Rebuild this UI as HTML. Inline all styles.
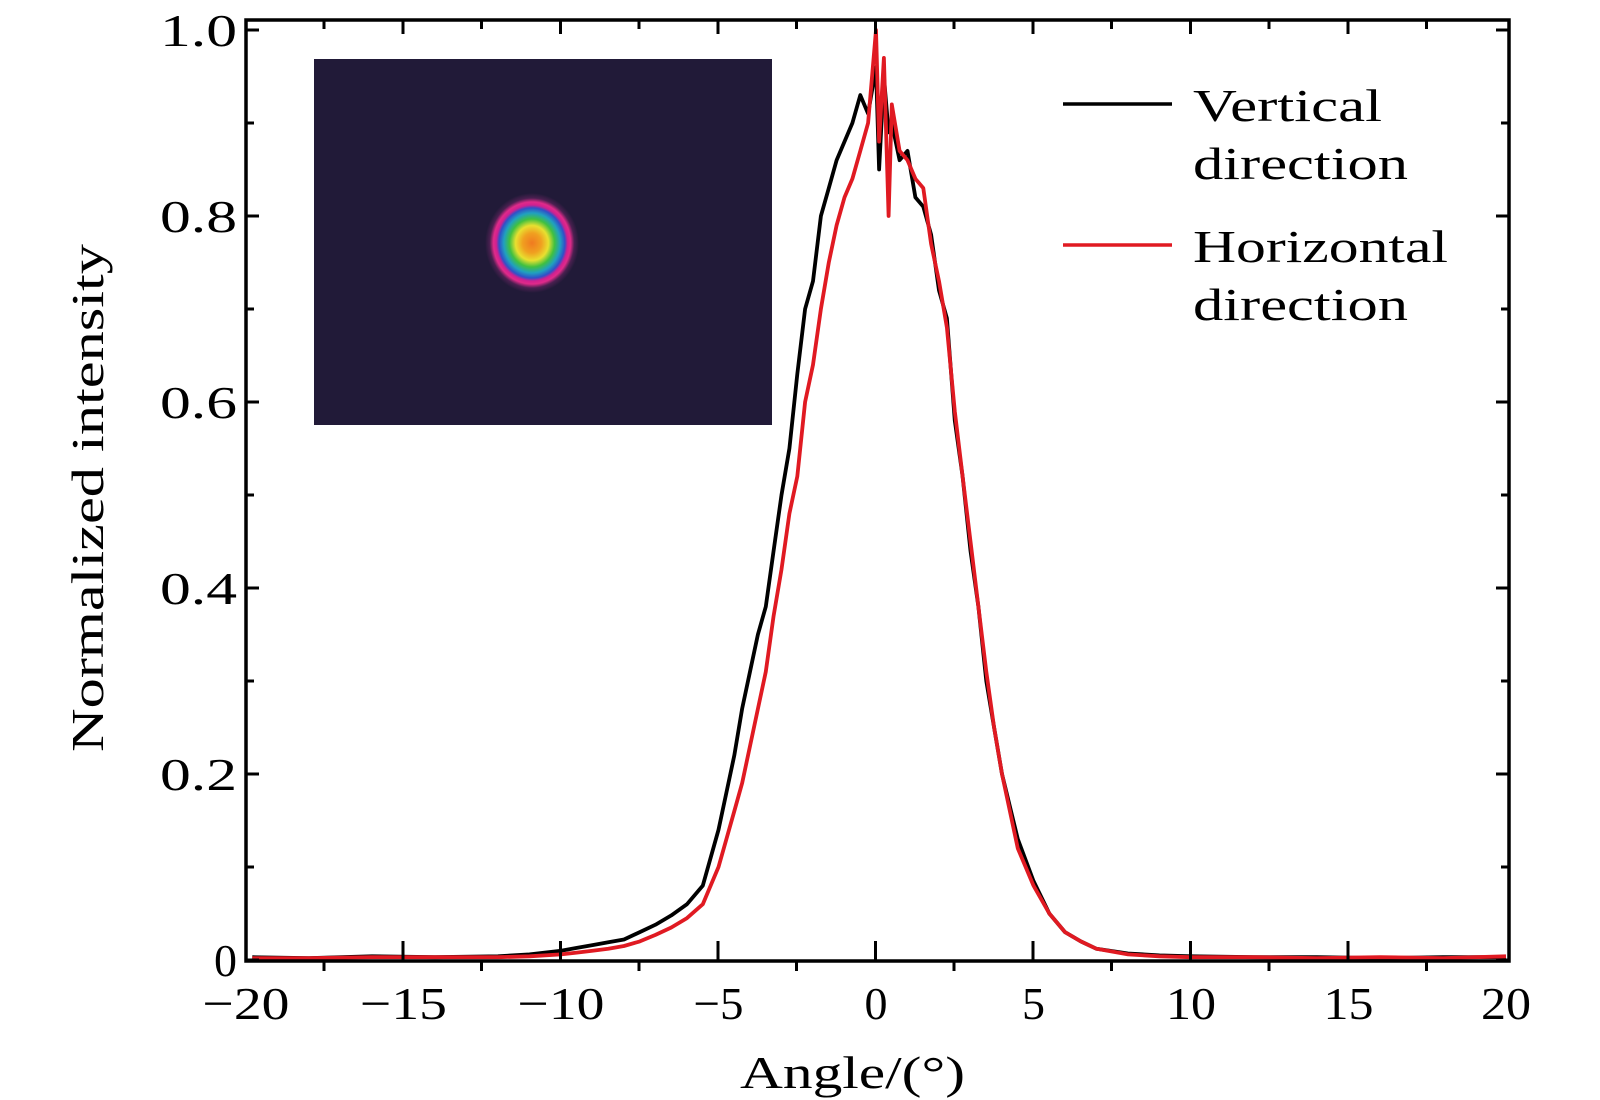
<!DOCTYPE html>
<html><head><meta charset="utf-8"><style>
html,body{margin:0;padding:0;background:#fff;}
svg{display:block;font-family:"Liberation Serif",serif;}
</style></head><body>
<svg id="chart" width="1600" height="1100" viewBox="0 0 1600 1100">
<defs>
<radialGradient id="spot" cx="0.5" cy="0.5" r="0.5">
<stop offset="0" stop-color="#f07a20"/>
<stop offset="0.2" stop-color="#f0a020"/>
<stop offset="0.35" stop-color="#e8e030"/>
<stop offset="0.48" stop-color="#40c040"/>
<stop offset="0.6" stop-color="#20a0c0"/>
<stop offset="0.7" stop-color="#3050c8"/>
<stop offset="0.76" stop-color="#d02090"/>
<stop offset="0.82" stop-color="#e02a8a"/>
<stop offset="0.9" stop-color="#4a2050"/>
<stop offset="1" stop-color="#211a38"/>
</radialGradient>
</defs>
<g id="inset">
<rect x="314" y="59" width="458" height="366" fill="#211a38"/>
<ellipse cx="532" cy="243" rx="47" ry="50" fill="url(#spot)"/>
</g>
<g id="series"></g>
<g id="axes"></g>
<g id="legend">
<line x1="1063" y1="104" x2="1172" y2="104" stroke="#000" stroke-width="3.5"/>
<text x="1193" y="121" font-size="46" textLength="189" lengthAdjust="spacingAndGlyphs">Vertical</text>
<text x="1193" y="179" font-size="46" textLength="215" lengthAdjust="spacingAndGlyphs">direction</text>
<line x1="1063" y1="245" x2="1172" y2="245" stroke="#e01a22" stroke-width="3.5"/>
<text x="1193" y="262" font-size="46" textLength="255" lengthAdjust="spacingAndGlyphs">Horizontal</text>
<text x="1193" y="320" font-size="46" textLength="215" lengthAdjust="spacingAndGlyphs">direction</text>
</g>
<text x="740" y="1088" font-size="46" textLength="225" lengthAdjust="spacingAndGlyphs">Angle/(°)</text>
<text transform="translate(103,752) rotate(-90)" font-size="46" textLength="508" lengthAdjust="spacingAndGlyphs">Normalized intensity</text>
</svg>
<script>
const angles=[-19.8,-18,-16,-14,-12,-11,-10,-9.5,-9,-8.5,-8,-7.5,-7,-6.5,-6,-5.5,-5,-4.75,-4.5,-4.25,-4,-3.75,-3.5,-3.25,-3,-2.75,-2.5,-2.25,-2,-1.75,-1.5,-1.25,-1,-0.75,-0.5,-0.25,0,0.1,0.25,0.4,0.5,0.75,1,1.25,1.5,1.75,2,2.25,2.5,2.75,3,3.25,3.5,3.75,4,4.5,5,5.5,6,6.5,7,8,9,10,12,14,16,18,20];
const verticalValues=[0.003,0.002,0.004,0.003,0.004,0.006,0.01,0.013,0.016,0.019,0.022,0.03,0.038,0.048,0.06,0.08,0.14,0.18,0.22,0.27,0.31,0.35,0.38,0.44,0.5,0.55,0.63,0.7,0.73,0.8,0.83,0.86,0.88,0.9,0.93,0.91,0.96,0.85,0.95,0.89,0.9,0.86,0.87,0.82,0.81,0.78,0.72,0.69,0.58,0.52,0.44,0.38,0.3,0.25,0.2,0.13,0.085,0.05,0.03,0.02,0.012,0.007,0.005,0.004,0.003,0.003,0.002,0.003,0.003];
const horizontalValues=[0.002,0.002,0.003,0.003,0.003,0.004,0.006,0.008,0.01,0.012,0.015,0.02,0.027,0.035,0.045,0.06,0.1,0.13,0.16,0.19,0.23,0.27,0.31,0.37,0.42,0.48,0.52,0.6,0.64,0.7,0.75,0.79,0.82,0.84,0.87,0.9,1.0,0.88,0.97,0.8,0.92,0.87,0.86,0.84,0.83,0.77,0.73,0.68,0.59,0.52,0.45,0.38,0.31,0.25,0.2,0.12,0.08,0.05,0.03,0.02,0.012,0.006,0.004,0.003,0.003,0.002,0.003,0.002,0.004];
const xTickLabels=[-20,-15,-10,-5,0,5,10,15,20];
const yTickLabels=[0,0.2,0.4,0.6,0.8,1.0];

const NS='http://www.w3.org/2000/svg';
const L=246,R=1509,T=20,B=961;
function xs(v){return 876+31.5*v;}
function ys(v){return 960-930*v;}
function mk(tag,attrs,parent){const e=document.createElementNS(NS,tag);for(const k in attrs)e.setAttribute(k,attrs[k]);parent.appendChild(e);return e;}
const series=document.getElementById('series');
const axes=document.getElementById('axes');

function drawLine(vals,color,name){
  const d=angles.map((a,i)=>(i?'L':'M')+Math.min(R,xs(a)).toFixed(1)+','+ys(vals[i]).toFixed(1)).join(' ');
  const p=mk('path',{d:d,fill:'none',stroke:color,'stroke-width':3.8,'stroke-linejoin':'round'},series);
  
  
}
drawLine(verticalValues,'#000','vertical-direction-line');
drawLine(horizontalValues,'#e01a22','horizontal-direction-line');

const frame=mk('rect',{x:L,y:T,width:R-L,height:B-T,fill:'none',stroke:'#000','stroke-width':3.5},axes);



for(let k=0;k<7;k++){
  const x=403+157.5*k;
  const t1=mk('line',{x1:x,y1:T,x2:x,y2:T+14,stroke:'#000','stroke-width':3},axes);
  
  
  const t2=mk('line',{x1:x,y1:B,x2:x,y2:B-20,stroke:'#000','stroke-width':3},axes);
  
  
}
for(let k=0;k<8;k++){
  const x=324+157.5*k;
  const t1=mk('line',{x1:x,y1:T,x2:x,y2:T+9,stroke:'#000','stroke-width':3},axes);
  
  
  const t2=mk('line',{x1:x,y1:B,x2:x,y2:B+10,stroke:'#000','stroke-width':3},axes);
  
  
}
for(let i=0;i<=10;i++){
  const y=ys(i/10);const len=(i%2===0)?13:8;
  const a=mk('line',{x1:L,y1:y,x2:L+len,y2:y,stroke:'#000','stroke-width':3},axes);
  
  
  const b=mk('line',{x1:R,y1:y,x2:R-len,y2:y,stroke:'#000','stroke-width':3},axes);
  
  
}
xTickLabels.forEach(v=>{
  const s=(v<0?'\u2212':'')+Math.abs(v);
  const w=s.length===1?23:(s.length===2?50:87);
  const t=mk('text',{x:xs(v),y:1019,'font-size':46,'text-anchor':'middle',textLength:w,lengthAdjust:'spacingAndGlyphs'},axes);
  t.textContent=s;
  
  
});
yTickLabels.forEach(v=>{
  const s=v===0?'0':v.toFixed(1);
  const t=mk('text',{x:237,y:ys(v)+16,'font-size':46,'text-anchor':'end',textLength:s.length===1?23:77,lengthAdjust:'spacingAndGlyphs'},axes);
  t.textContent=s;
  
  
});
</script>
</body></html>
